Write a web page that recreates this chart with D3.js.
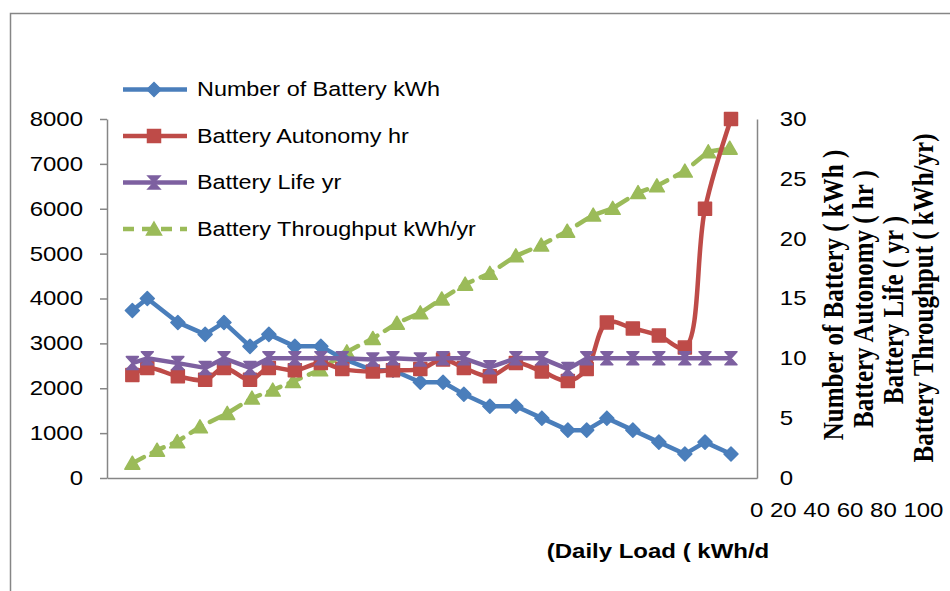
<!DOCTYPE html>
<html>
<head>
<meta charset="utf-8">
<script src="https://cdn.jsdelivr.net/npm/d3@7"></script>
<style>
body { margin: 0; background: #fff; }
svg { display: block; }
text { font-family: "Liberation Sans", Arial, sans-serif; fill: #000; }
</style>
</head>
<body>
<svg width="950" height="591"></svg>
<script>
// daily load (kWh/d) where count, autonomy and life were read
const load = [3.9, 6.2, 10.9, 15.1, 18.0, 22.0, 24.9, 28.9, 32.9, 36.2, 40.9, 44.0, 48.2,
    51.7, 54.9, 58.9, 62.9, 66.9, 70.9, 73.8, 76.9, 80.9, 84.9, 88.9, 92.0, 96.0];
const batteryCount = [14, 15, 13, 12, 13, 11, 12, 11, 11, 10, 9, 9, 8,
    8, 7, 6, 6, 5, 4, 4, 5, 4, 3, 2, 3, 2];
const autonomy = [8.6, 9.2, 8.5, 8.2, 9.2, 8.2, 9.2, 9.0, 9.6, 9.1, 8.9, 9.0, 9.1,
    9.9, 9.2, 8.5, 9.6, 8.9, 8.1, 9.1, 13.0, 12.5, 11.9, 10.9, 22.5, 30];
const life = [9.6, 10, 9.6, 9.2, 10, 9.2, 10, 10, 10, 10, 9.9, 10, 9.9,
    10, 10, 9.25, 10, 10, 9.1, 10, 10, 10, 10, 10, 10, 10];

// throughput has its own load points (left axis)
const throughputLoad = [3.9, 7.7, 10.8, 14.3, 18.5, 22.3, 25.5, 28.6, 32.8, 36.9, 40.9, 44.6, 48.2,
    51.5, 55.1, 58.9, 62.9, 66.8, 70.8, 74.8, 77.8, 81.7, 84.6, 88.9, 92.5, 95.8];
const throughput = [330, 620, 810, 1140, 1440, 1780, 1960, 2150, 2410, 2810, 3110, 3450, 3680,
    3990, 4320, 4560, 4950, 5190, 5500, 5860, 6010, 6360, 6510, 6840, 7270, 7350];

const leftTicks = [0, 1000, 2000, 3000, 4000, 5000, 6000, 7000, 8000];
const rightTicks = [0, 5, 10, 15, 20, 25, 30];
const loadTicks = [0, 20, 40, 60, 80, 100];

const seriesNames = ["Number of Battery kWh", "Battery Autonomy hr", "Battery Life yr", "Battery Throughput kWh/yr"];
const rightTitles = ["Number of Battery ( kWh )", "Battery Autonomy ( hr )", "Battery Life ( yr )", "Battery Throughput ( kWh/yr)"];

const SX = 1.2; // the original is stretched sideways
const axisGrey = "#868686";

const svg = d3.select("svg");

const x = d3.scaleLinear().domain([0, 100]).range([107, 757]);
const yL = d3.scaleLinear().domain([0, 8000]).range([478, 119]);
const yR = d3.scaleLinear().domain([0, 30]).range([478, 119]);

// outer chart frame
svg.append("rect")
    .attr("x", 10.5).attr("y", 13.5)
    .attr("width", 1000).attr("height", 1000)
    .attr("fill", "none").attr("stroke", axisGrey).attr("stroke-width", 1.5);

const styleAxis = g => {
    g.selectAll("path, line").attr("stroke", axisGrey).attr("stroke-width", 1.5);
    g.selectAll("text")
        .attr("font-size", 20)
        .attr("font-family", "'Liberation Sans', Arial, sans-serif")
        .attr("fill", "#000")
        .attr("transform", `scale(${SX},1)`);
};

svg.append("g")
    .attr("transform", "translate(107,0)")
    .call(d3.axisLeft(yL).tickValues(leftTicks).tickFormat(d3.format("d"))
        .tickSize(7).tickSizeOuter(0).tickPadding(13))
    .call(styleAxis);

svg.append("g")
    .attr("transform", "translate(757,0)")
    .call(d3.axisRight(yR).tickValues(rightTicks).tickSize(0).tickPadding(19))
    .call(styleAxis);

svg.append("g")
    .attr("transform", "translate(0,478)")
    .call(d3.axisBottom(x).tickValues([]).tickSizeOuter(0))
    .call(styleAxis);

// x tick labels come out as one run of text off to the right, as in the source
svg.append("text")
    .attr("transform", `translate(750,510) scale(${SX},1)`)
    .attr("dy", "0.35em")
    .attr("font-size", 20)
    .attr("xml:space", "preserve")
    .text(loadTicks.join(" "));

svg.append("text")
    .attr("transform", `translate(658,558) scale(${SX},1)`)
    .attr("text-anchor", "middle")
    .attr("font-size", 20)
    .attr("font-weight", "bold")
    .text("(Daily Load ( kWh/d");

const titleX = [832, 862, 892, 922];
const titleY = [295, 299, 310, 298];
svg.append("g").selectAll("text")
    .data(rightTitles).enter()
    .append("text")
    .attr("transform", (d, i) => `translate(${titleX[i]},${titleY[i]}) scale(${SX},1) rotate(-90)`)
    .attr("text-anchor", "middle")
    .attr("dy", "0.35em")
    .style("font-family", "'Liberation Serif', 'Times New Roman', serif")
    .attr("font-size", 25)
    .attr("font-weight", "bold")
    .text(d => d);

const markers = {
    diamond: "M0,-7L7,0L0,7L-7,0Z",
    square: "M-6.5,-6.5h13v13h-13Z",
    star: "M-6,-6.5L6,-6.5L0,0ZM-6,6.5L6,6.5L0,0Z",
    triangle: "M0,-7L7.5,6L-7.5,6Z"
};

const series = [
    {name: seriesNames[3], color: "#9BBB59", marker: "triangle", dash: "13,9", y: yL,
     values: throughputLoad.map((l, i) => ({l, v: throughput[i]}))},
    {name: seriesNames[0], color: "#4A7EBB", marker: "diamond", y: yR,
     values: load.map((l, i) => ({l, v: batteryCount[i]}))},
    {name: seriesNames[1], color: "#BE4B48", marker: "square", y: yR, smooth: true,
     values: load.map((l, i) => ({l, v: autonomy[i]}))},
    {name: seriesNames[2], color: "#7D60A0", marker: "star", y: yR,
     values: load.map((l, i) => ({l, v: life[i]}))}
];

const plot = svg.append("g");
series.forEach(s => {
    const line = d3.line()
        .x(d => x(d.l))
        .y(d => s.y(d.v))
        .curve(s.smooth ? d3.curveCatmullRom : d3.curveLinear);
    plot.append("path")
        .attr("d", line(s.values))
        .attr("fill", "none")
        .attr("stroke", s.color)
        .attr("stroke-width", 4.5)
        .attr("stroke-linejoin", "round")
        .attr("stroke-linecap", s.dash ? "round" : "butt")
        .attr("stroke-dasharray", s.dash || null);
    plot.append("g").selectAll("path")
        .data(s.values).enter()
        .append("path")
        .attr("transform", d => `translate(${x(d.l)},${s.y(d.v)})`)
        .attr("d", markers[s.marker])
        .attr("fill", s.color)
        .attr("stroke", s.color)
        .attr("stroke-width", 1.5)
        .attr("stroke-linejoin", "round");
});

// legend
const legendOrder = [1, 2, 3, 0];
const legend = svg.append("g").selectAll("g")
    .data(legendOrder.map(i => series[i])).enter()
    .append("g")
    .attr("transform", (d, i) => `translate(123,${89.5 + i * 46.5})`);

legend.append("line")
    .attr("x1", 0).attr("x2", 64)
    .attr("stroke", d => d.color)
    .attr("stroke-width", 4.5)
    .attr("stroke-dasharray", d => d.dash ? "11,8" : null);
legend.append("path")
    .attr("transform", "translate(31,0)")
    .attr("d", d => markers[d.marker])
    .attr("fill", d => d.color)
    .attr("stroke", d => d.color)
    .attr("stroke-width", 1.5);
legend.append("text")
    .attr("transform", `translate(74,0) scale(${SX},1)`)
    .attr("dy", "0.35em")
    .attr("font-size", 19.5)
    .text(d => d.name);
</script>
</body>
</html>
